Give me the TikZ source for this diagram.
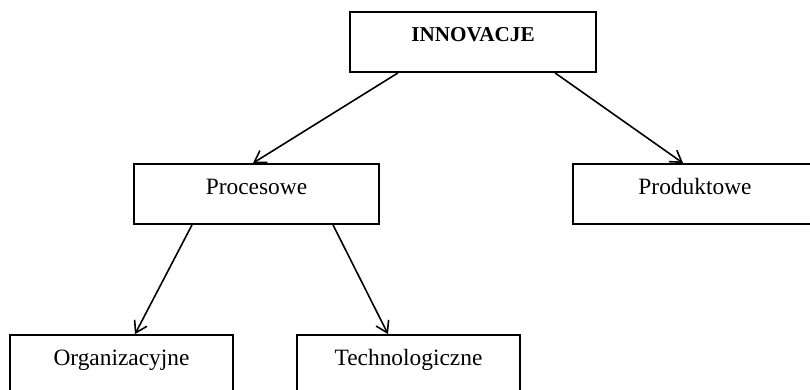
\documentclass[tikz,border=0pt]{standalone}
\usepackage{fontspec}
\setmainfont{Liberation Serif}
\usetikzlibrary{arrows.meta}
\begin{document}
\begin{tikzpicture}[x=1pt,y=-1pt,
  box/.style={draw=black, line width=1.8pt, fill=white, inner sep=0pt,
    text height=30pt, text depth=30pt, anchor=base,
    font=\fontsize{23.4}{28}\selectfont},
  link/.style={line width=1.6pt, arrows={-Straight Barb[length=11pt,width=14pt,line width=1.6pt]}}]
  \useasboundingbox (0,0) rectangle (810,390);
  \clip (0,0) rectangle (810,390);
  \fill[white] (0,0) rectangle (810,390);
  % boxes, placed at their text baselines
  \node[box, minimum width=246pt, font=\fontsize{21.2}{25}\selectfont\bfseries] (inno) at (473,42) {INNOVACJE};
  \node[box, minimum width=245pt] (proc) at (256.5,194) {Procesowe};
  \node[box, minimum width=244pt] (prod) at (695,194) {Produktowe};
  \node[box, minimum width=223pt] (org) at (121.5,365) {Organizacyjne};
  \node[box, minimum width=223pt] (tech) at (408.5,365) {Technologiczne};
  % connectors
  \draw[link] ([xshift=-75pt]inno.south) -- ([xshift=-3.5pt]proc.north);
  \draw[link] ([xshift=82pt]inno.south) -- ([xshift=-12pt]prod.north);
  \draw[link] ([xshift=-64.5pt]proc.south) -- ([xshift=13.5pt]org.north);
  \draw[link] ([xshift=76.5pt]proc.south) -- ([xshift=-20.5pt]tech.north);
\end{tikzpicture}
\end{document}
